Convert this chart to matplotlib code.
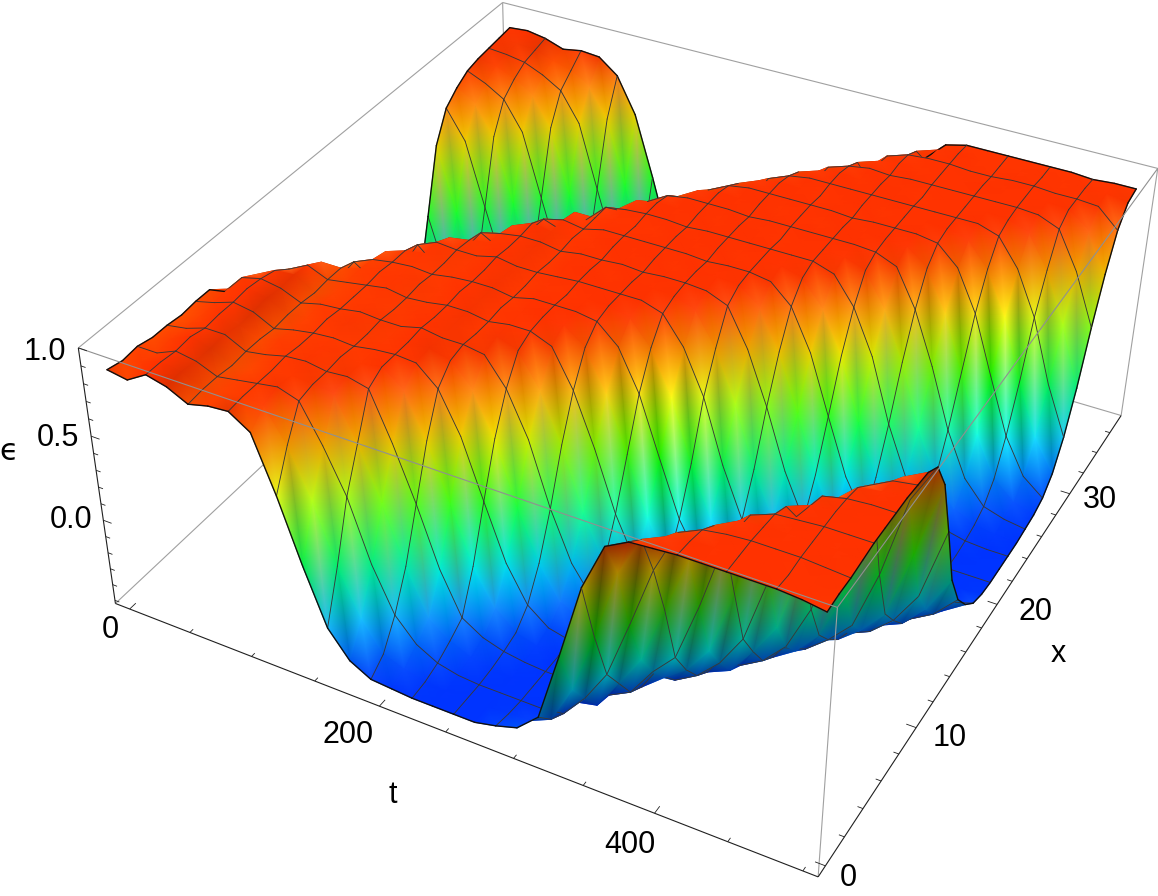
import numpy as np
import matplotlib
matplotlib.use('Agg')
import matplotlib.pyplot as plt
from matplotlib.collections import LineCollection, TriMesh
from matplotlib.colors import hsv_to_rgb
from matplotlib.tri import Triangulation

plt.rcParams['font.family'] = ['Liberation Sans', 'DejaVu Sans']

# epsilon*100, one list per t column, x going up
eps_pct = [
 [91,89,90,88,88,87,88,88,80,58,20,-15,-35,-43,-46,-47,-47,-47,-47,-47,-47,-44,-35,-19,20,60,78,85,90,92,93,94,95],
 [89,92,90,91,90,90,91,92,92,87,63,24,-11,-33,-42,-46,-47,-47,-47,-47,-47,-47,-44,-35,-19,20,60,78,85,90,92,93,96],
 [96,96,95,96,94,95,95,96,95,93,87,64,26,-9,-32,-42,-46,-47,-47,-47,-47,-47,-47,-44,-35,-19,20,60,78,85,90,92,94],
 [93,94,93,93,94,92,93,94,93,94,93,88,70,30,-7,-30,-41,-45,-47,-47,-47,-47,-47,-47,-44,-35,-19,20,60,78,85,88,90],
 [87,88,88,87,88,88,87,88,88,87,88,88,85,70,32,-4,-28,-40,-45,-47,-47,-47,-47,-47,-47,-44,-35,-19,20,60,78,85,92],
 [90,90,90,89,90,91,90,90,91,90,90,91,90,88,70,36,0,-25,-39,-45,-47,-47,-47,-47,-47,-47,-44,-35,-19,20,60,78,91],
 [91,92,92,92,93,92,92,93,92,92,92,93,92,92,89,73,40,3,-25,-39,-45,-47,-47,-47,-47,-47,-47,-44,-35,-19,20,60,82],
 [83,91,94,93,94,94,93,94,94,93,94,94,93,94,94,90,75,44,7,-20,-37,-44,-47,-47,-47,-47,-47,-47,-44,-35,-19,20,60],
 [50,72,90,92,92,93,92,92,93,92,92,93,92,92,93,92,90,77,47,10,-18,-36,-43,-47,-47,-47,-47,-47,-47,-44,-35,-19,22],
 [12,44,68,91,93,93,94,93,93,94,93,93,94,93,93,94,93,91,79,49,12,-16,-35,-43,-47,-47,-47,-47,-47,-47,-44,-35,-19],
 [-22,8,42,66,90,95,95,95,96,95,95,96,95,95,96,95,95,96,92,81,52,13,-14,-34,-43,-47,-47,-47,-47,-47,-47,-44,-35],
 [-38,-20,5,35,62,86,94,95,94,95,95,94,95,95,94,95,95,94,95,93,82,55,15,-12,-33,-42,-47,-47,-47,-47,-47,-47,-47],
 [-45,-38,-22,0,30,60,83,92,94,93,93,94,93,93,94,93,93,94,93,93,93,85,58,18,-10,-32,-42,-47,-47,-47,-47,-47,-47],
 [-46,-43,-36,-28,-6,27,59,79,92,95,95,95,96,95,95,96,95,95,96,95,95,94,87,61,22,-14,-34,-43,-46,-47,-47,-47,-47],
 [-47,-46,-43,-38,-32,-8,24,54,76,91,95,96,96,95,96,96,95,96,96,95,96,96,94,87,63,25,-11,-33,-42,-46,-47,-47,-47],
 [-47,-47,-46,-44,-40,-30,-10,17,50,72,90,95,96,96,96,95,96,96,96,95,96,96,96,94,88,66,28,-8,-31,-42,-45,-47,-47],
 [-47,-47,-47,-46,-44,-41,-32,-14,12,43,68,86,94,96,96,96,95,96,96,96,95,96,96,96,94,89,69,31,-5,-29,-41,-45,-47],
 [-47,-47,-47,-47,-46,-45,-42,-34,-18,6,37,63,83,93,96,96,96,95,96,96,96,95,96,96,96,94,89,71,35,-2,-27,-40,-45],
 [-44,-46,-47,-47,-47,-47,-45,-42,-36,-22,1,30,59,79,92,95,96,96,95,96,96,96,95,96,96,96,94,90,72,38,2,-25,-39],
 [-40,-45,-47,-47,-47,-47,-47,-45,-43,-38,-26,-5,24,54,76,91,95,96,96,95,96,96,96,95,96,96,96,94,90,74,42,5,-23],
 [-28,-39,-45,-47,-47,-47,-47,-47,-46,-44,-40,-30,-10,17,50,72,90,95,96,96,96,95,96,96,96,95,96,96,94,90,76,45,9],
 [15,-15,-30,-44,-47,-47,-47,-47,-47,-46,-44,-41,-32,-14,12,43,68,86,94,96,96,96,96,95,96,96,96,95,96,94,91,78,48],
 [60,22,-10,-25,-40,-46,-47,-47,-47,-47,-46,-45,-42,-34,-18,6,37,63,83,93,96,96,96,96,95,96,96,96,95,96,95,91,80],
 [88,65,25,-5,-22,-35,-46,-47,-47,-47,-47,-47,-45,-42,-36,-22,1,30,59,79,92,95,96,96,96,95,96,96,96,95,96,95,92],
 [95,88,62,30,-8,-25,-38,-45,-47,-47,-47,-47,-47,-45,-43,-38,-26,-5,24,54,76,91,95,96,96,96,96,95,96,96,96,96,95],
 [96,94,88,65,28,-8,-25,-39,-45,-47,-47,-47,-47,-47,-46,-44,-40,-30,-10,17,50,72,90,95,96,96,96,96,96,96,95,95,95],
 [97,96,94,88,70,32,-5,-22,-37,-44,-47,-47,-47,-47,-47,-46,-44,-41,-32,-14,12,43,68,86,94,96,96,96,96,96,95,95,95],
 [97,97,96,95,90,72,36,-2,-23,-35,-43,-46,-47,-47,-47,-47,-46,-45,-42,-34,-18,6,37,63,83,93,96,96,96,96,96,95,95],
 [97,97,97,96,95,91,77,44,5,-20,-32,-41,-46,-47,-47,-47,-47,-47,-45,-42,-36,-22,1,30,59,79,92,95,96,96,96,95,95],
 [97,97,97,97,96,96,93,82,53,11,-18,-30,-40,-45,-47,-47,-47,-47,-47,-45,-43,-38,-26,-5,24,54,76,91,95,96,95,95,95],
 [97,96,97,97,97,97,96,94,87,62,18,-15,-28,-39,-45,-47,-47,-47,-47,-47,-46,-44,-40,-30,-10,17,50,72,90,95,95,95,94],
 [96,96,96,97,97,97,97,96,94,88,67,27,-8,-25,-37,-44,-47,-47,-47,-47,-47,-46,-44,-41,-32,-14,12,43,68,86,94,95,95],
 [94,95,95,96,97,97,97,97,96,95,90,72,36,-2,-23,-35,-43,-46,-47,-47,-47,-47,-46,-45,-42,-34,-18,6,37,63,83,93,95],
]
t_grid = np.linspace(0, 500, 33)
x_grid = np.linspace(0, 37, 33)

t_major = [0, 200, 400]
t_minor = [50, 100, 150, 250, 300, 350, 450, 500]
x_major = [0, 10, 20, 30]
x_minor = [2, 4, 6, 8, 12, 14, 16, 18, 22, 24, 26, 28, 32, 34, 36]
z_major = [0.0, 0.5, 1.0]
z_minor = [-0.5, -0.4, -0.3, -0.2, -0.1, 0.1, 0.2, 0.3, 0.4, 0.6, 0.7, 0.8, 0.9]

# box limits and where its corners sit in the picture
tlo, thi = -12.0, 510.0
xlo, xhi = -0.75, 37.75
zlo, zhi = -0.52, 1.0
corners = [(tlo, xlo, zlo, 117, 602), (tlo, xlo, zhi, 77, 347),
           (thi, xlo, zlo, 820, 877), (thi, xlo, zhi, 835, 610),
           (thi, xhi, zlo, 1123, 412), (thi, xhi, zhi, 1156, 170),
           (tlo, xhi, zlo, 504, 239), (tlo, xhi, zhi, 507, 0)]


def norm3(t, x, z):
    return (np.asarray(t, float)-tlo)/(thi-tlo), (np.asarray(x, float)-xlo)/(xhi-xlo), (np.asarray(z, float)-zlo)/(zhi-zlo)


# camera matrix from the 8 corners
rows = []
for t, x, z, u, v in corners:
    a, b, c = norm3(t, x, z)
    rows.append([a, b, c, 1, 0, 0, 0, 0, -u*a, -u*b, -u*c, -u])
    rows.append([0, 0, 0, 0, a, b, c, 1, -v*a, -v*b, -v*c, -v])
P = np.linalg.svd(np.array(rows, float))[2][-1].reshape(3, 4)
a, b, c = norm3(thi, xlo, zhi)
if P[2] @ np.array([a, b, c, 1.0]) < 0:
    P = -P


def project(t, x, z):
    a, b, c = norm3(t, x, z)
    w = P[2, 0]*a + P[2, 1]*b + P[2, 2]*c + P[2, 3]
    u = (P[0, 0]*a + P[0, 1]*b + P[0, 2]*c + P[0, 3])/w
    v = (P[1, 0]*a + P[1, 1]*b + P[1, 2]*c + P[1, 3])/w
    return u, v, w


Z = np.array(eps_pct, float)/100
Z = -0.47 + 0.965*(Z+0.47)
T, X = np.meshgrid(t_grid, x_grid, indexing='ij')
px, py, depth = project(T, X, Z)
nt, nx = Z.shape

# colour: hue follows height
hue = np.interp(Z, [-0.47, -0.3, -0.1, 0.2, 0.5, 0.75, 0.86, 0.91], [0.633, 0.58, 0.5, 0.333, 0.167, 0.08, 0.04, 0.033])
hsv = np.stack([hue, np.ones_like(hue), np.ones_like(hue)], axis=-1)
rgb = hsv_to_rgb(hsv)

# darker bands where the top dips along t near the start
dz_di = np.gradient(Z, axis=0)
dz_dj = np.gradient(Z, axis=1)
band = np.clip(-dz_di, 0, 0.05)*3*(np.abs(dz_dj) < 0.02)*(Z > 0.8)
band[14:] = 0
front = rgb*(1-band)[..., None]

# light and dark streaks running down the steep walls
steep = np.clip(np.abs(dz_dj)/0.15, 0, 1)[..., None]
ii, jj = np.indices(Z.shape)
even = ((ii+jj) % 2 == 0)[..., None]
front = np.where(even, front+(1-front)*0.1*steep, front*(1-0.07*steep))
back = rgb*0.62
back = np.where(even, back*(1+0.1*steep), back*(1-0.07*steep))
back = np.clip(back, 0, 1)

fig = plt.figure(figsize=(11.58, 8.96), dpi=100)
ax = fig.add_axes([0, 0, 1, 1])
ax.set_xlim(0, 1158)
ax.set_ylim(896, 0)
ax.axis('off')


def edge(p, q, color, lw, zo):
    u, v, _ = project(np.array([p[0], q[0]]), np.array([p[1], q[1]]), np.array([p[2], q[2]]))
    ax.plot(u, v, color=color, lw=lw, zorder=zo, solid_capstyle='butt')


grey = '#a0a0a0'
# rear edges go under the surface
edge((tlo, xlo, zlo), (tlo, xhi, zlo), grey, 0.8, 1)
edge((tlo, xhi, zlo), (thi, xhi, zlo), grey, 0.8, 1)
edge((tlo, xhi, zlo), (tlo, xhi, zhi), grey, 0.8, 1)
edge((tlo, xlo, zhi), (tlo, xhi, zhi), grey, 0.8, 1)
edge((tlo, xhi, zhi), (thi, xhi, zhi), grey, 0.8, 1)
edge((thi, xhi, zlo), (thi, xhi, zhi), grey, 0.8, 1)

# painter's sort of triangles and mesh segments
items = []
for i in range(nt-1):
    for j in range(nx-1):
        for tri in (((i, j), (i+1, j), (i, j+1)), ((i+1, j), (i+1, j+1), (i, j+1))):
            items.append((np.mean([depth[q] for q in tri]), 0, tri))
bias = np.abs(np.diff(depth, axis=0)).mean() + np.abs(np.diff(depth, axis=1)).mean()
for i in range(nt):
    for j in range(nx):
        if i % 2 == 0 and j < nx-1:
            outer = i in (0, nt-1)
            items.append(((depth[i, j]+depth[i, j+1])/2 - bias, 1 if outer else 2, ((i, j), (i, j+1))))
        if j % 2 == 0 and i < nt-1:
            outer = j in (0, nx-1)
            items.append(((depth[i, j]+depth[i+1, j])/2 - bias, 1 if outer else 2, ((i, j), (i+1, j))))
items.sort(key=lambda it: -it[0])


def flush_tris(batch, zo):
    xs, ys, cols = [], [], []
    for tri in batch:
        q = [px[n] for n in tri], [py[n] for n in tri]
        e1 = (q[0][1]-q[0][0], q[1][1]-q[1][0])
        e2 = (q[0][2]-q[0][0], q[1][2]-q[1][0])
        top = e1[0]*e2[1]-e1[1]*e2[0] < 0
        xs += q[0]
        ys += q[1]
        for n in tri:
            c = front[n] if top else back[n]
            cols.append([c[0], c[1], c[2], 1.0])
    tr = Triangulation(xs, ys, triangles=np.arange(len(xs)).reshape(-1, 3))
    mesh = TriMesh(tr, zorder=zo)
    mesh.set_facecolor(np.array(cols))
    ax.add_collection(mesh, autolim=False)


def flush_segs(batch, zo):
    segs, widths, cols = [], [], []
    for kind, seg in batch:
        segs.append([(px[n], py[n]) for n in seg])
        widths.append(1.0 if kind == 1 else 0.65)
        cols.append('#101010' if kind == 1 else '#383838')
    ax.add_collection(LineCollection(segs, linewidths=widths, colors=cols, zorder=zo, capstyle='round'), autolim=False)


zo = 2.0
tb, sb = [], []
for d, kind, data in items:
    if kind == 0:
        if sb:
            flush_segs(sb, zo)
            zo += 0.001
            sb = []
        tb.append(data)
    else:
        if tb:
            flush_tris(tb, zo)
            zo += 0.001
            tb = []
        sb.append((kind, data))
if tb:
    flush_tris(tb, zo)
    zo += 0.001
if sb:
    flush_segs(sb, zo)
    zo += 0.001

# front edges sit on top of the surface
top_z = 50
edge((tlo, xlo, zhi), (thi, xlo, zhi), '#909090', 0.8, top_z)
edge((thi, xlo, zhi), (thi, xhi, zhi), '#909090', 0.8, top_z)
edge((thi, xlo, zlo), (thi, xlo, zhi), '#a0a0a0', 0.8, top_z)
black = '#202020'
edge((tlo, xlo, zlo), (thi, xlo, zlo), black, 0.8, top_z)
edge((thi, xlo, zlo), (thi, xhi, zlo), black, 0.8, top_z)
edge((tlo, xlo, zlo), (tlo, xlo, zhi), black, 0.8, top_z)

# ticks
for vals, ln in ((t_major, 0.013), (t_minor, 0.007)):
    for t in vals:
        edge((t, xlo, zlo), (t, xlo+ln*(xhi-xlo), zlo), black, 0.6, top_z)
for vals, ln in ((x_major, 0.013), (x_minor, 0.007)):
    for x in vals:
        edge((thi, x, zlo), (thi-ln*(thi-tlo), x, zlo), black, 0.6, top_z)
for vals, ln in ((z_major, 0.013), (z_minor, 0.007)):
    for z in vals:
        edge((tlo, xlo, z), (tlo+ln*(thi-tlo), xlo, z), black, 0.6, top_z)

fs = 22
for s, u, v in (('0', 110, 630), ('200', 348, 735), ('400', 630, 845),
                ('0', 848, 878), ('10', 950, 738), ('20', 1035, 612), ('30', 1100, 500),
                ('1.0', 45, 352), ('0.5', 58, 438), ('0.0', 71, 520),
                ('t', 393, 795), ('x', 1058, 654)):
    ax.text(u, v, s, fontsize=fs, ha='center', va='center', zorder=top_z)
ax.text(9, 451, '\u03f5', fontsize=fs, ha='center', va='center', family='DejaVu Sans', zorder=top_z)

fig.savefig('out.png', dpi=100)
